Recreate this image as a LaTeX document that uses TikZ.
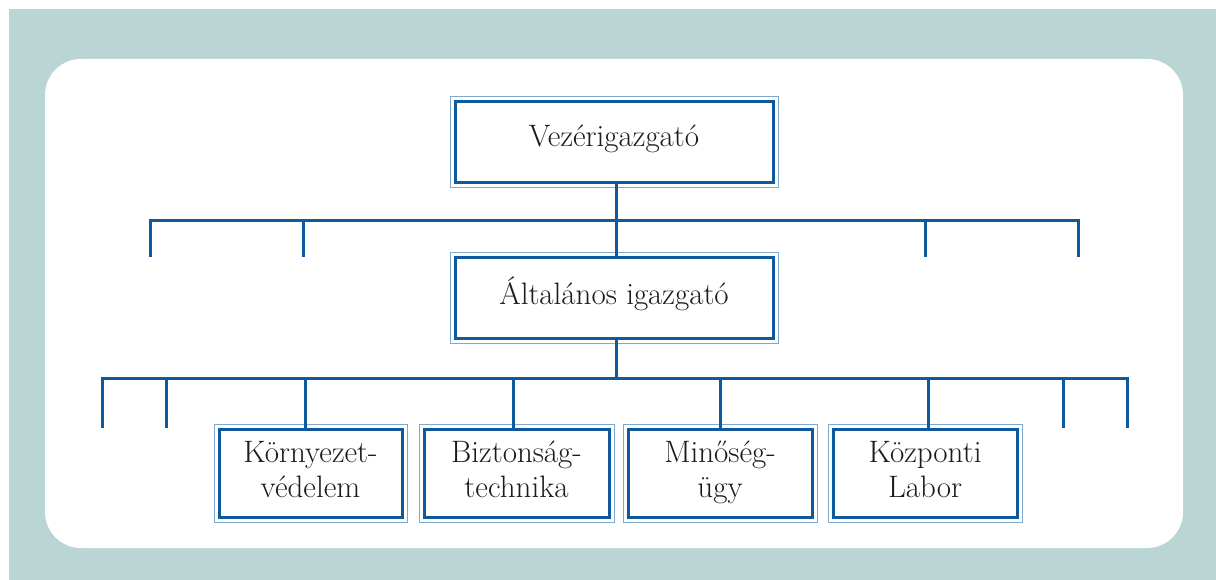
\documentclass[tikz,border=0pt]{standalone}
\usepackage{fontspec}
\usetikzlibrary{calc}
\definecolor{bgteal}{HTML}{B9D5D4}
\definecolor{lineblue}{HTML}{0F5A9C}
\definecolor{thinblue}{HTML}{7FA8CF}
\definecolor{txt}{HTML}{1E1A1B}
\newcommand{\topstrut}{\rule{0pt}{24pt}}
\newcommand{\botstrut}{\rule[-10pt]{0pt}{10pt}}
\newcommand{\onestrut}{\rule[-14pt]{0pt}{29pt}}
\tikzset{
  orgbox/.style={draw=lineblue, line width=3pt, fill=white, align=center,
    inner sep=0pt, text=txt, font=\fontsize{31}{35}\selectfont},
  conn/.style={draw=lineblue, line width=3pt},
  outerframe/.style={draw=thinblue, line width=1pt},
}
\begin{document}
\begin{tikzpicture}[x=1pt,y=-1pt]
\useasboundingbox (0,0) rectangle (1216,580);
\fill[bgteal] (9,9) rectangle (1216,580);
\fill[white, rounded corners=36pt] (45,59) rectangle (1183,548);

% boxes
\node[orgbox, minimum width=318pt, minimum height=81pt] (ceo) at (614,142.5) {\onestrut Vezérigazgató};
\node[orgbox, minimum width=318pt, minimum height=80pt] (gm) at (614,298) {\onestrut Általános igazgató};
\node[orgbox, minimum width=183pt, minimum height=88pt] (b1) at (310.5,473) {\topstrut Környezet-\\védelem\botstrut};
\node[orgbox, minimum width=185pt, minimum height=88pt] (b2) at (516.5,473) {\topstrut Biztonság-\\technika\botstrut};
\node[orgbox, minimum width=184pt, minimum height=88pt] (b3) at (720,473) {\topstrut Minőség-\\ügy\botstrut};
\node[orgbox, minimum width=184pt, minimum height=88pt] (b4) at (925,473) {\topstrut Központi\\Labor\botstrut};

\foreach \n in {ceo,gm,b1,b2,b3,b4}{
  \draw[outerframe] ($(\n.north west)+(-3.5pt,3.5pt)$) rectangle ($(\n.south east)+(3.5pt,-3.5pt)$);
}

% upper level connectors
\coordinate (u1) at (150,257);
\coordinate (u2) at (303,257);
\coordinate (u3) at (925,257);
\coordinate (u4) at (1078,257);
\coordinate (uh) at (616,221);
\draw[conn] (ceo.south -| uh) -- (uh);
\draw[conn] (u1) |- (uh) -| (u4);
\draw[conn] (u2) -- (u2 |- uh);
\draw[conn] (u3) -- (u3 |- uh);
\draw[conn] (uh) -- (gm.north -| uh);

% lower level connectors
\coordinate (lh) at (616,378);
\coordinate (l1) at (102,428);
\coordinate (l2) at (166,428);
\coordinate (l3) at (1063,428);
\coordinate (l4) at (1127,428);
\draw[conn] (gm.south -| lh) -- (lh);
\draw[conn] (l1) |- (lh) -| (l4);
\draw[conn] (l2) -- (l2 |- lh);
\draw[conn] (l3) -- (l3 |- lh);
\coordinate (t1) at (305,378);
\coordinate (t2) at (513,378);
\coordinate (t3) at (720,378);
\coordinate (t4) at (928,378);
\draw[conn] (t1) -- (t1 |- b1.north);
\draw[conn] (t2) -- (t2 |- b2.north);
\draw[conn] (t3) -- (t3 |- b3.north);
\draw[conn] (t4) -- (t4 |- b4.north);
\end{tikzpicture}
\end{document}
